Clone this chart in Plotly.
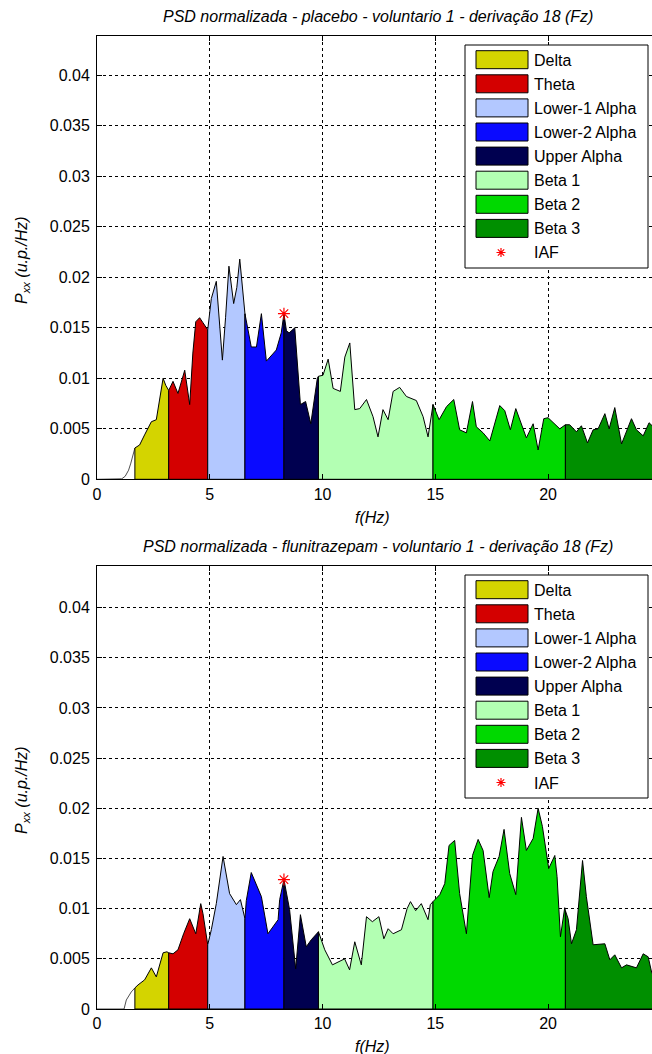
import plotly.graph_objects as go

# ---------------- data ----------------
band_names = ["Delta", "Theta", "Lower-1 Alpha", "Lower-2 Alpha", "Upper Alpha",
              "Beta 1", "Beta 2", "Beta 3"]
band_colors = ["#D4D400", "#D40000", "#B3C8FF", "#0A0AFF", "#000050",
               "#B3FFB3", "#00D900", "#008F00"]
band_edges = [1.68, 3.18, 4.91, 6.56, 8.29, 9.82, 14.9, 20.77, 24.8]

titles = ["PSD normalizada - placebo - voluntario 1 - derivação 18 (Fz)",
          "PSD normalizada - flunitrazepam - voluntario 1 - derivação 18 (Fz)"]

freq_placebo = [0, 0.5, 1.0, 1.1, 1.25, 1.4, 1.5, 1.6, 1.68,
                1.89, 2.11, 2.41, 2.63, 2.78, 2.93, 3.05, 3.18,
                3.37, 3.59, 3.89, 4.11, 4.25, 4.38, 4.55, 4.7, 4.91,
                5.07, 5.29, 5.56, 5.7, 5.85, 6.06, 6.2, 6.33, 6.45, 6.56,
                6.84, 7.07, 7.18, 7.29, 7.51, 7.95, 8.17, 8.29,
                8.4, 8.52, 8.77, 9.02, 9.25, 9.48, 9.77, 9.82,
                10.02, 10.25, 10.47, 10.79, 10.99, 11.21, 11.43, 11.65, 11.95, 12.24,
                12.46, 12.68, 12.91, 13.13, 13.42, 13.72, 14.16, 14.46, 14.68, 14.9,
                15.17, 15.5, 15.82, 16.08, 16.38, 16.65, 16.82, 17.12, 17.42, 17.86,
                18.08, 18.33, 18.57, 19.04, 19.34, 19.56, 19.81, 20.0, 20.52, 20.77,
                20.96, 21.26, 21.48, 21.75, 22.0, 22.22, 22.52, 22.71, 22.96, 23.26,
                23.7, 23.92, 24.22, 24.48, 24.8]
psd_placebo = [0, 0, 0, 0.00005, 0.0003, 0.0009, 0.0016, 0.0025, 0.0031,
               0.0034, 0.0044, 0.0057, 0.0059, 0.0079, 0.0100, 0.0093, 0.0088,
               0.0097, 0.0085, 0.0108, 0.0074, 0.0125, 0.0156, 0.0160, 0.0155, 0.0148,
               0.0179, 0.0196, 0.0118, 0.0160, 0.0211, 0.0174, 0.0190, 0.0218, 0.0187, 0.0164,
               0.0131, 0.0131, 0.0150, 0.0164, 0.0117, 0.0128, 0.0145, 0.0164,
               0.0147, 0.0145, 0.0150, 0.0074, 0.0077, 0.0055, 0.0100, 0.0102,
               0.0103, 0.0119, 0.0090, 0.0087, 0.0121, 0.0135, 0.0069, 0.0070, 0.0079, 0.0062,
               0.0042, 0.0069, 0.0059, 0.0087, 0.0091, 0.0082, 0.0078, 0.0062, 0.0042, 0.0074,
               0.0059, 0.0072, 0.0079, 0.0049, 0.0046, 0.0077, 0.0052, 0.0046, 0.0038, 0.0073,
               0.0068, 0.0049, 0.0070, 0.0041, 0.0055, 0.0029, 0.0060, 0.0061, 0.0050, 0.0054,
               0.0054, 0.0047, 0.0053, 0.0036, 0.0049, 0.0050, 0.0065, 0.0050, 0.0071, 0.0035,
               0.0060, 0.0049, 0.0043, 0.0056, 0.0049]

freq_fluni = [0, 0.5, 1.0, 1.2, 1.3, 1.52, 1.68,
              1.82, 2.11, 2.41, 2.63, 2.93, 3.1, 3.18,
              3.37, 3.59, 3.84, 4.11, 4.38, 4.6, 4.7, 4.91,
              5.07, 5.29, 5.59, 5.88, 6.18, 6.36, 6.56,
              6.62, 6.84, 7.29, 7.58, 8.03, 8.1, 8.29,
              8.54, 8.81, 9.02, 9.28, 9.5, 9.82,
              10.1, 10.44, 10.98, 11.2, 11.43, 11.72, 11.95, 12.21, 12.5, 12.72,
              12.91, 13.13, 13.5, 13.75, 13.9, 14.13, 14.38, 14.68, 14.78, 14.9,
              15.2, 15.42, 15.61, 15.86, 16.08, 16.38, 16.65, 16.9, 17.12, 17.39,
              17.56, 17.83, 18.05, 18.3, 18.57, 18.82, 19.04, 19.34, 19.56, 19.75,
              20.03, 20.3, 20.4, 20.55, 20.74, 20.77,
              20.89, 21.04, 21.26, 21.53, 21.7, 22.0, 22.52, 22.74, 22.96, 23.26,
              23.48, 23.92, 24.22, 24.44, 24.6, 24.8]
psd_fluni = [0, 0, 0, 0, 0.0009, 0.0017, 0.0021,
             0.0024, 0.0029, 0.0041, 0.0032, 0.0056, 0.0057, 0.0056,
             0.0055, 0.0059, 0.0075, 0.0090, 0.0075, 0.0105, 0.0095, 0.0064,
             0.0079, 0.0105, 0.0152, 0.0115, 0.0104, 0.0109, 0.0090,
             0.0108, 0.0136, 0.0112, 0.0075, 0.0089, 0.0109, 0.0129,
             0.0099, 0.0040, 0.0094, 0.0062, 0.0069, 0.0077,
             0.0059, 0.0044, 0.0050, 0.0039, 0.0067, 0.0044, 0.0092, 0.0087, 0.0092, 0.0070,
             0.0080, 0.0075, 0.0079, 0.0100, 0.0107, 0.0098, 0.0105, 0.0089, 0.0104, 0.0107,
             0.0114, 0.0125, 0.0163, 0.0168, 0.0115, 0.0075, 0.0153, 0.0169, 0.0158, 0.0111,
             0.0137, 0.0152, 0.0179, 0.0135, 0.0114, 0.0191, 0.0158, 0.0170, 0.0200, 0.0182,
             0.0140, 0.0153, 0.0132, 0.0072, 0.0101, 0.0098,
             0.0090, 0.0065, 0.0079, 0.0148, 0.0112, 0.0064, 0.0065, 0.0049, 0.0054, 0.0041,
             0.0044, 0.0041, 0.0055, 0.0052, 0.0036, 0.0040]

iaf_freq = [8.29, 8.29]
iaf_power = [0.0164, 0.0129]

x_ticks = [0, 5, 10, 15, 20]
y_ticks = [0, 0.005, 0.01, 0.015, 0.02, 0.025, 0.03, 0.035, 0.04]
y_tick_labels = ["0", "0.005", "0.01", "0.015", "0.02", "0.025", "0.03", "0.035", "0.04"]

# ---------------- layout geometry (pixels) ----------------
W, H, L = 652, 1054, 97
X_MAX = 24.61
panels = [
    dict(freq=freq_placebo, psd=psd_placebo, top=36.0, bottom=479.3, ymax=0.04389,
         title_y=17, xlabel_y=517, ylabel_y=260, legend_top=45),
    dict(freq=freq_fluni, psd=psd_fluni, top=566.0, bottom=1009.0, ymax=0.04415,
         title_y=546, xlabel_y=1046, ylabel_y=790, legend_top=575),
]
FONT = "Liberation Sans, Arial, sans-serif"


def px_x(px):
    return (px - L) / (W - L)


def px_y(py):
    return 1 - py / H


def star_path(cx, cy, r):
    # 8-armed asterisk (legend symbol) in paper coordinates
    segs = []
    d = r * 0.707
    for dx, dy in [(r, 0), (0, r), (d, d), (d, -d)]:
        segs.append("M{:.5f},{:.5f} L{:.5f},{:.5f}".format(
            px_x(cx - dx), px_y(cy - dy), px_x(cx + dx), px_y(cy + dy)))
    return " ".join(segs)


fig = go.Figure()
shapes = []
annotations = []
layout_axes = {}

for k, p in enumerate(panels):
    n = "" if k == 0 else str(k + 1)
    xa, ya = "x" + n, "y" + n
    f, v = p["freq"], p["psd"]

    # curve before the first band (no fill)
    pre_x = [fi for fi in f if fi <= band_edges[0]]
    pre_y = [vi for fi, vi in zip(f, v) if fi <= band_edges[0]]
    fig.add_trace(go.Scatter(x=pre_x, y=pre_y, mode="lines", xaxis=xa, yaxis=ya,
                             line=dict(color="#222222", width=0.8), showlegend=False,
                             hoverinfo="skip"))
    # filled bands
    for i, name in enumerate(band_names):
        lo, hi = band_edges[i], band_edges[i + 1]
        bx = [fi for fi in f if lo <= fi <= hi]
        by = [vi for fi, vi in zip(f, v) if lo <= fi <= hi]
        fig.add_trace(go.Scatter(
            x=bx + [bx[-1], bx[0], bx[0]], y=by + [0, 0, by[0]],
            mode="lines", fill="toself", fillcolor=band_colors[i],
            line=dict(color="black", width=1), xaxis=xa, yaxis=ya,
            name=name, showlegend=False, hoverinfo="skip"))
    # IAF marker
    fig.add_trace(go.Scatter(x=[iaf_freq[k]], y=[iaf_power[k]], mode="markers",
                             xaxis=xa, yaxis=ya, showlegend=False, name="IAF",
                             marker=dict(symbol="asterisk-open", size=10,
                                         line=dict(color="red", width=1.2), color="red")))

    dom = [px_y(p["bottom"]), px_y(p["top"])]
    grid = dict(showgrid=True, gridcolor="black", gridwidth=1, griddash="3px,3px",
                zeroline=False, showline=True, linecolor="black", linewidth=1,
                ticks="inside", ticklen=5, tickcolor="black",
                tickfont=dict(family=FONT, size=16, color="black"))
    layout_axes["xaxis" + n] = dict(domain=[0, 1], range=[0, X_MAX], anchor=ya,
                                    tickvals=x_ticks, mirror="ticks", **grid)
    layout_axes["yaxis" + n] = dict(domain=dom, range=[0, p["ymax"]], anchor=xa,
                                    tickvals=y_ticks, ticktext=y_tick_labels,
                                    ticklabelstandoff=3, **grid)

    # titles and axis labels
    annotations.append(dict(text="<i>" + titles[k] + "</i>", x=px_x(378), y=px_y(p["title_y"]),
                            xref="paper", yref="paper", showarrow=False,
                            xanchor="center", yanchor="middle",
                            font=dict(family=FONT, size=16, color="black")))
    annotations.append(dict(text="<i>f(Hz)</i>", x=px_x(372), y=px_y(p["xlabel_y"]),
                            xref="paper", yref="paper", showarrow=False,
                            xanchor="center", yanchor="middle",
                            font=dict(family=FONT, size=16, color="black")))
    annotations.append(dict(text="<i>P<sub>xx</sub> (u.p./Hz)</i>", x=px_x(22),
                            y=px_y(p["ylabel_y"]), xref="paper", yref="paper",
                            showarrow=False, textangle=-90,
                            xanchor="center", yanchor="middle",
                            font=dict(family=FONT, size=16, color="black")))

    # legend (drawn as box, patches, symbol and labels, above the grid)
    lt = p["legend_top"]
    shapes.append(dict(type="rect", xref="paper", yref="paper", layer="above",
                       x0=px_x(465), x1=px_x(648), y0=px_y(lt), y1=px_y(lt + 223),
                       fillcolor="white", line=dict(color="black", width=1)))
    for i, name in enumerate(band_names + ["IAF"]):
        ytop = lt + 5.7 + 24.1 * i
        if i < len(band_names):
            shapes.append(dict(type="rect", xref="paper", yref="paper", layer="above",
                               x0=px_x(476), x1=px_x(528), y0=px_y(ytop), y1=px_y(ytop + 18),
                               fillcolor=band_colors[i], line=dict(color="black", width=1)))
        else:
            shapes.append(dict(type="path", xref="paper", yref="paper", layer="above",
                               path=star_path(501, ytop + 9, 4.5),
                               line=dict(color="red", width=1.2)))
        annotations.append(dict(text=name, x=px_x(532), y=px_y(ytop + 9.5),
                                xref="paper", yref="paper", showarrow=False,
                                xanchor="left", yanchor="middle",
                                font=dict(family=FONT, size=16, color="black")))

fig.update_layout(
    width=W, height=H,
    margin=dict(l=L, r=0, t=0, b=0, autoexpand=False),
    paper_bgcolor="white", plot_bgcolor="white",
    showlegend=False,
    shapes=shapes, annotations=annotations,
    **layout_axes,
)

fig.write_html("out.html")
